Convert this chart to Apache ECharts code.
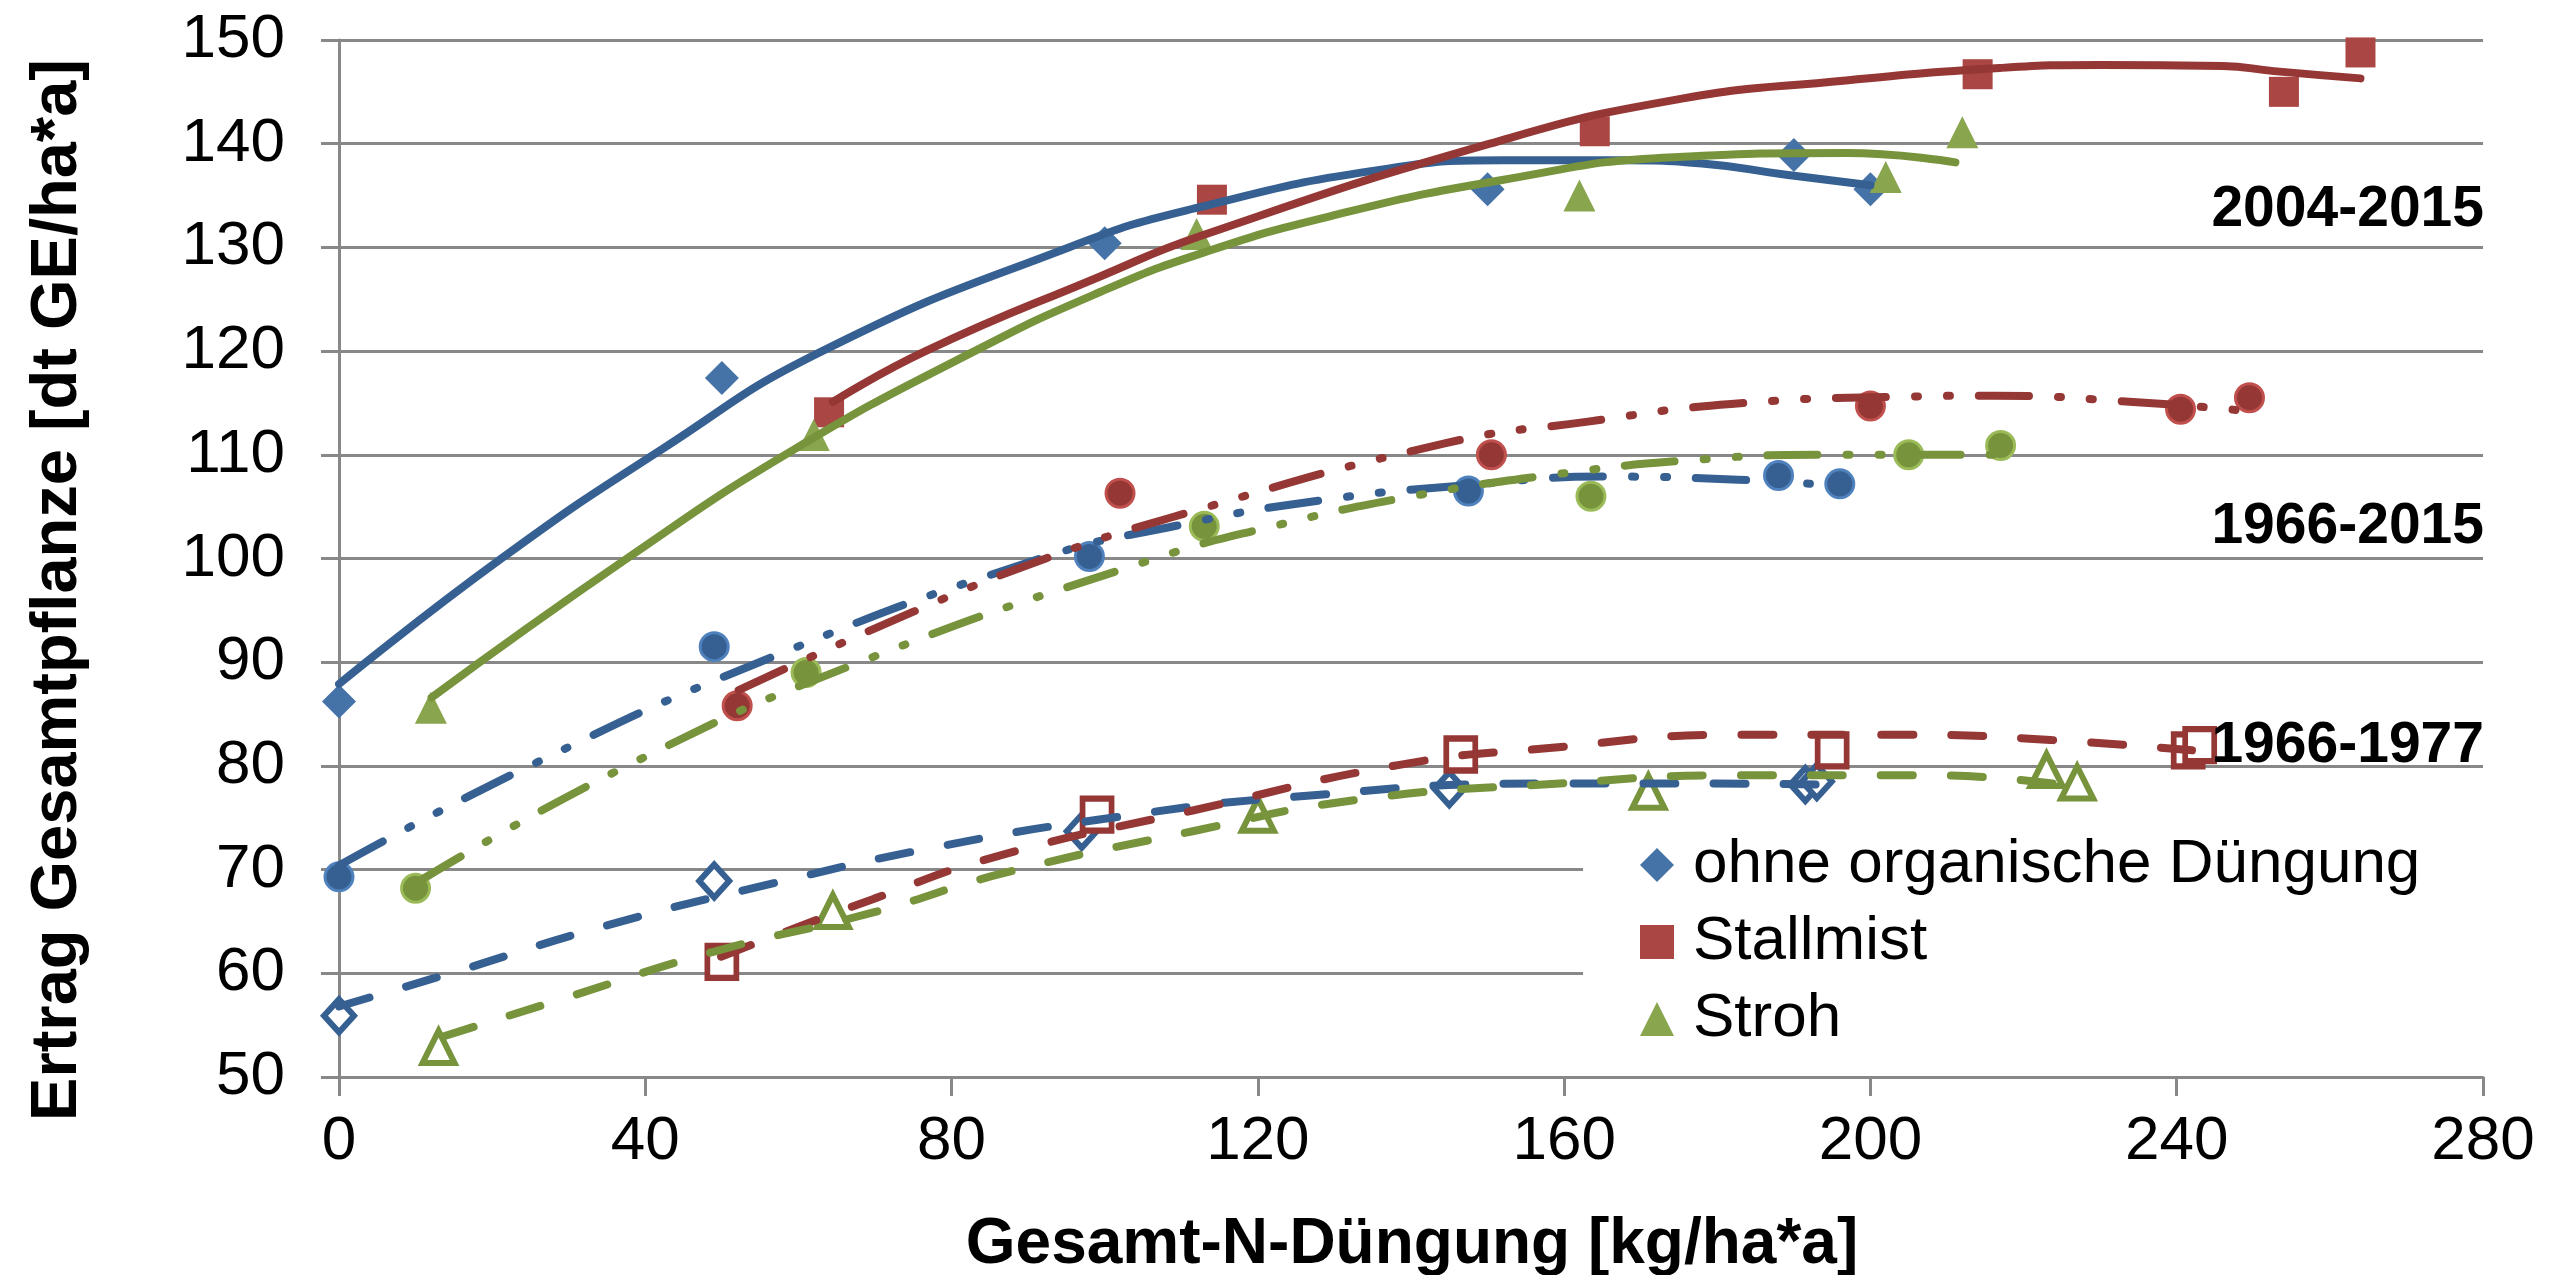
<!DOCTYPE html>
<html>
<head>
<meta charset="utf-8">
<script src="https://cdn.jsdelivr.net/npm/echarts@6/dist/echarts.min.js"></script>
<style>
  html, body { margin: 0; padding: 0; background: #fff; }
  #chart { width: 2552px; height: 1275px; }
</style>
</head>
<body>
<div id="chart"></div>
<script>
// Messpunkte: Gesamt-N-Düngung (x) und Ertrag (y)
const ohne2004N = [0, 50, 100, 150, 190, 200]
const ohne2004Y = [86.2, 117.4, 130.4, 135.6, 138.9, 135.6]
const stall2004N = [64, 114, 164, 214, 254, 264]
const stall2004Y = [114.1, 134.6, 141.2, 146.7, 145.0, 148.8]
const stroh2004N = [12, 62, 112, 162, 202, 212]
const stroh2004Y = [85.6, 111.9, 131.3, 135.0, 136.8, 141.1]

const ohne1966N = [0, 49, 98, 147.5, 188, 196]
const ohne1966Y = [69.3, 91.5, 100.2, 106.5, 108.0, 107.2]
const stall1966N = [52, 102, 150.5, 200, 240.5, 249.5]
const stall1966Y = [85.8, 106.3, 110.0, 114.7, 114.4, 115.5]
const stroh1966N = [10, 61, 113, 163.5, 205, 217]
const stroh1966Y = [68.2, 89.0, 103.1, 106.0, 110.0, 110.9]

const ohne1977N = [0, 49, 97, 145, 191.5, 193]
const ohne1977Y = [55.9, 68.9, 73.7, 77.8, 78.2, 78.5]
const stall1977N = [50, 99, 146.5, 195, 241.5, 243]
const stall1977Y = [61.1, 75.3, 81.1, 81.5, 81.5, 82.0]
const stroh1977N = [13, 64.5, 120, 171, 223, 227]
const stroh1977Y = [52.9, 66.0, 75.3, 77.5, 79.6, 78.4]

// Trendlinien
const trOhne2004X = [0, 21.2, 42.1, 63.1, 95.3, 112.5, 137, 152, 168, 178, 189, 200]
const trOhne2004Y = [87.9, 100, 110.5, 120, 130, 133.9, 137.6, 138.4, 138.4, 138.1, 137.0, 136.0]
const trStall2004X = [64.5, 76.6, 99.4, 112.5, 150.3, 174.3, 196.8, 216.9, 230, 246, 252.7, 264]
const trStall2004Y = [115.1, 120, 127.2, 131.1, 140, 144.2, 146.1, 147.3, 147.6, 147.5, 147.0, 146.3]
const trStroh2004X = [12.1, 37.6, 59.4, 83, 99.4, 112.5, 129.4, 151.9, 174.3, 196.8, 211.1]
const trStroh2004Y = [86.6, 100, 110.5, 120, 125.7, 129.4, 133, 136.5, 138.7, 139.1, 138.2]

const trOhne1966X = [0, 24.9, 54.9, 91.6, 109.6, 128.1, 147.7, 166, 182.7, 194.3]
const trOhne1966Y = [70.4, 80, 90, 100, 103.2, 105.6, 107.1, 107.9, 107.6, 107.1]
const trStall1966X = [52.2, 75.1, 92.3, 108.9, 144.4, 163.1, 181.8, 204.3, 216.3, 234.3, 248.1]
const trStall1966Y = [87.3, 94.9, 100, 104.0, 111.1, 113.2, 114.9, 115.6, 115.7, 115.1, 114.3]
const trStroh1966X = [10.3, 37.6, 68, 106.6, 121.9, 139.4, 157.7, 176.8, 194.3, 216.8]
const trStroh1966Y = [68.8, 80, 90, 100, 103.1, 105.9, 108.0, 109.5, 110.0, 110.0]

const trOhne1977X = [0, 14.1, 34.9, 55.7, 78.2, 101.9, 124.4, 157.7, 178.5, 193.5]
const trOhne1977Y = [56.8, 59.9, 64.6, 68.5, 72.2, 75.1, 77.0, 78.3, 78.3, 78.2]
const trStall1977X = [49.9, 69.9, 86.5, 111.5, 138.5, 157.7, 182.7, 205.2, 223.5, 242]
const trStall1977Y = [61.6, 67.2, 71.4, 75.7, 80.1, 81.7, 83.0, 83.0, 82.5, 81.5]
const trStroh1977X = [13.6, 29.9, 49, 69.9, 86.5, 111.5, 132.7, 159.4, 182.7, 207.7, 226.8]
const trStroh1977Y = [53.9, 57.7, 62.1, 65.9, 69.6, 73.7, 76.7, 78.3, 79.1, 79.1, 78.0]

const legendNames = ['ohne organische Düngung', 'Stallmist', 'Stroh']
const periodLabels = ['2004-2015', '1966-2015', '1966-1977']

const font = '"Liberation Sans", Arial, sans-serif'
const blue = '#4572A7', red = '#AA4643', green = '#89A54E'
const blueD = '#376092', redD = '#953735', greenD = '#77933C'
const blueL = '#4F81BD', redL = '#C0504D', greenL = '#9BBB59'
const dashDotDot = [50, 29, 3, 29, 3, 29]
const longDash = [32, 38]

const zip = (xs, ys) => xs.map((x, i) => [x, ys[i]])

const scatter = (name, xs, ys, symbol, size, itemStyle) => ({
  name,
  type: 'scatter',
  symbol,
  symbolSize: size,
  data: zip(xs, ys),
  itemStyle: Object.assign({ opacity: 1 }, itemStyle),
  z: 2,
  silent: true
})

const trend = (xs, ys, color, type) => ({
  name: 'trend',
  type: 'line',
  data: zip(xs, ys),
  showSymbol: false,
  symbol: 'none',
  smooth: 0.5,
  lineStyle: { width: 8, color, type, cap: 'round', join: 'round', opacity: 1 },
  z: 3,
  silent: true
})

const myChart = echarts.init(document.getElementById('chart'))

const option = {
  animation: false,
  backgroundColor: '#fff',
  grid: { left: 339, top: 40, width: 2144, height: 1037 },
  xAxis: {
    type: 'value',
    min: 0,
    max: 280,
    interval: 40,
    axisLine: { show: true, lineStyle: { color: '#888', width: 3 } },
    axisTick: { show: true, length: 19, lineStyle: { color: '#888', width: 3 } },
    splitLine: { show: false },
    axisLabel: { margin: 34, fontSize: 62, color: '#000', fontFamily: font }
  },
  yAxis: {
    type: 'value',
    min: 50,
    max: 150,
    interval: 10,
    axisLine: { show: true, lineStyle: { color: '#888', width: 3 } },
    axisTick: { show: true, length: 18, lineStyle: { color: '#888', width: 3 } },
    splitLine: { show: true, lineStyle: { color: '#888', width: 3 } },
    axisLabel: { margin: 54, fontSize: 62, color: '#000', fontFamily: font }
  },
  legend: {
    orient: 'vertical',
    left: 1583,
    top: 815,
    backgroundColor: '#fff',
    padding: [18, 80, 22, 57],
    itemWidth: 34,
    itemHeight: 34,
    itemGap: 13,
    selectedMode: false,
    textStyle: { fontSize: 62, lineHeight: 64, color: '#000', fontFamily: font, padding: [0, 0, 0, 14] },
    data: [
      { name: legendNames[0], icon: 'diamond', itemStyle: { color: blue } },
      { name: legendNames[1], icon: 'rect', itemStyle: { color: red } },
      { name: legendNames[2], icon: 'triangle', itemStyle: { color: green } }
    ]
  },
  graphic: [
    {
      type: 'text', x: 58, y: 590, rotation: Math.PI / 2, z: 100,
      style: { text: 'Ertrag Gesamtpflanze [dt GE/ha*a]', font: 'bold 65px ' + font, fill: '#000', textAlign: 'center', textVerticalAlign: 'middle' }
    },
    {
      type: 'text', x: 1412, y: 1245, z: 100,
      style: { text: 'Gesamt-N-Düngung [kg/ha*a]', font: 'bold 64px ' + font, fill: '#000', textAlign: 'center', textVerticalAlign: 'middle' }
    },
    {
      type: 'text', x: 2484, y: 210, z: 100,
      style: { text: periodLabels[0], font: 'bold 57px ' + font, fill: '#000', textAlign: 'right', textVerticalAlign: 'middle' }
    },
    {
      type: 'text', x: 2484, y: 527, z: 100,
      style: { text: periodLabels[1], font: 'bold 57px ' + font, fill: '#000', textAlign: 'right', textVerticalAlign: 'middle' }
    },
    {
      type: 'text', x: 2484, y: 746, z: 100,
      style: { text: periodLabels[2], font: 'bold 57px ' + font, fill: '#000', textAlign: 'right', textVerticalAlign: 'middle' }
    }
  ],
  series: [
    // 2004-2015: gefüllte Marker
    scatter(legendNames[0], ohne2004N, ohne2004Y, 'diamond', 34, { color: blue }),
    scatter(legendNames[1], stall2004N, stall2004Y, 'rect', 30, { color: red }),
    scatter(legendNames[2], stroh2004N, stroh2004Y, 'triangle', 32, { color: green }),
    // 1966-2015: Kreise
    scatter(legendNames[0] + ' 1966-2015', ohne1966N, ohne1966Y, 'circle', 28, { color: blueD, borderColor: blueL, borderWidth: 3 }),
    scatter(legendNames[1] + ' 1966-2015', stall1966N, stall1966Y, 'circle', 28, { color: redD, borderColor: redL, borderWidth: 3 }),
    scatter(legendNames[2] + ' 1966-2015', stroh1966N, stroh1966Y, 'circle', 28, { color: greenD, borderColor: greenL, borderWidth: 3 }),
    // 1966-1977: offene Marker
    scatter(legendNames[0] + ' 1966-1977', ohne1977N, ohne1977Y, 'diamond', [30, 33], { color: '#fff', borderColor: blueD, borderWidth: 6 }),
    scatter(legendNames[1] + ' 1966-1977', stall1977N, stall1977Y, 'rect', [29, 32], { color: '#fff', borderColor: redD, borderWidth: 6 }),
    scatter(legendNames[2] + ' 1966-1977', stroh1977N, stroh1977Y, 'triangle', [32, 32], { color: '#fff', borderColor: greenD, borderWidth: 6 }),
    // Trendlinien
    trend(trOhne2004X, trOhne2004Y, blueD, 'solid'),
    trend(trStall2004X, trStall2004Y, redD, 'solid'),
    trend(trStroh2004X, trStroh2004Y, greenD, 'solid'),
    trend(trOhne1966X, trOhne1966Y, blueD, dashDotDot),
    trend(trStall1966X, trStall1966Y, redD, dashDotDot),
    trend(trStroh1966X, trStroh1966Y, greenD, dashDotDot),
    trend(trOhne1977X, trOhne1977Y, blueD, longDash),
    trend(trStall1977X, trStall1977Y, redD, longDash),
    trend(trStroh1977X, trStroh1977Y, greenD, longDash)
  ]
}

option && myChart.setOption(option)
window.addEventListener('resize', function () {
  myChart.resize()
})
</script>
</body>
</html>
